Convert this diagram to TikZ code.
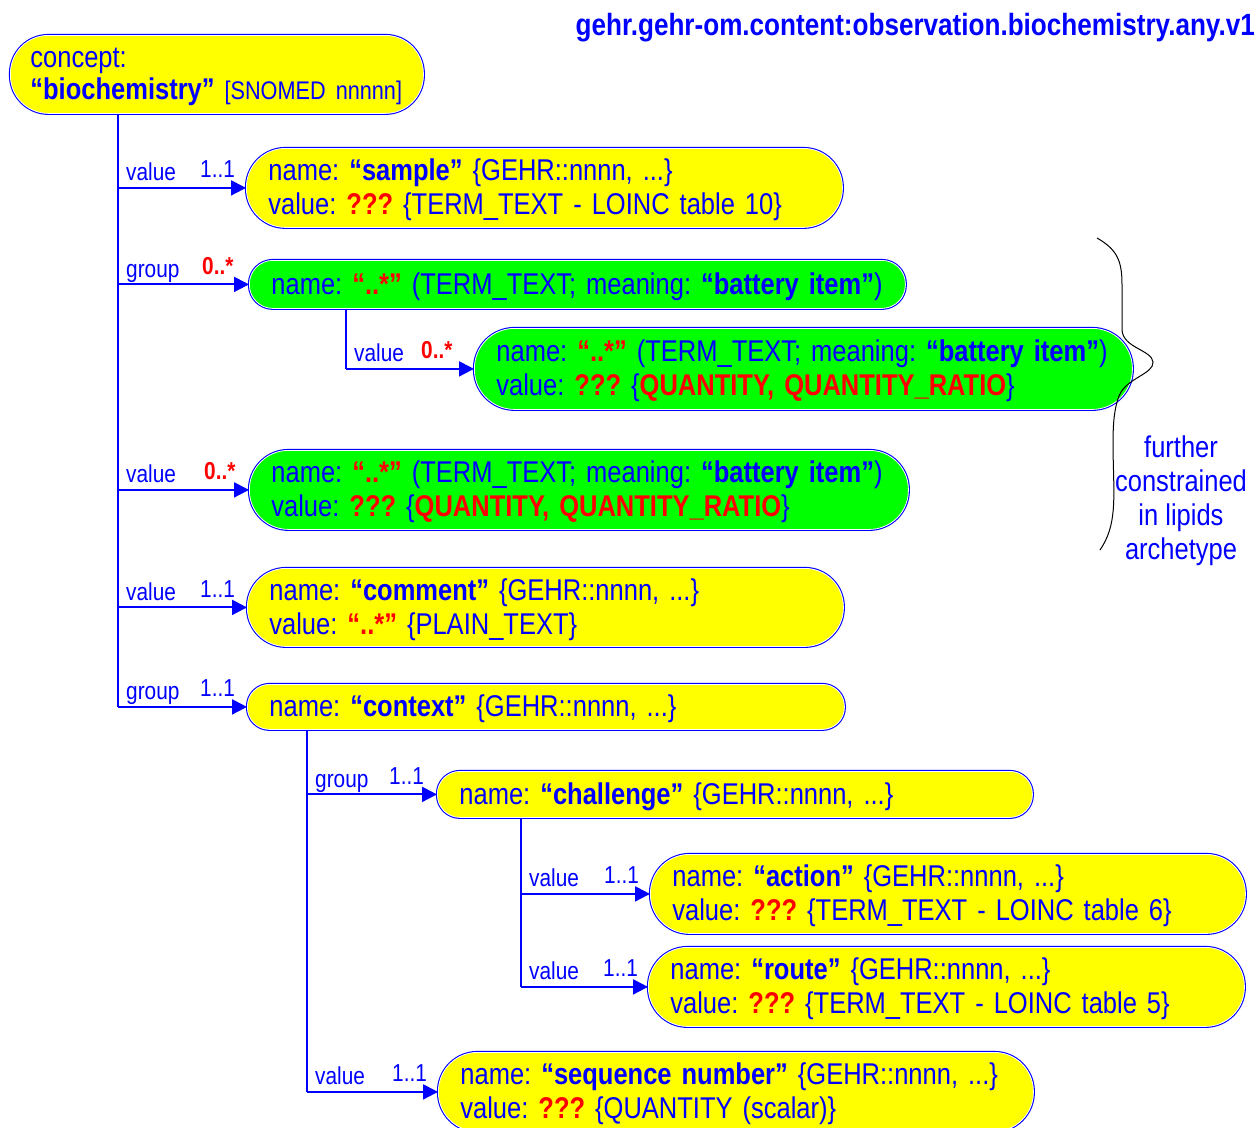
\documentclass[tikz,border=0pt]{standalone}
\usepackage{fontspec}
\setmainfont{Liberation Sans}[FakeStretch=0.85]
\usetikzlibrary{arrows.meta}

\definecolor{ehrblue}{RGB}{0,0,255}
\definecolor{ehrred}{RGB}{255,0,0}
\definecolor{ehryellow}{RGB}{255,255,0}
\definecolor{ehrgreen}{RGB}{0,255,0}

\frenchspacing
\newcommand\boxfont{\fontsize{30}{34}\selectfont}
\newcommand\conceptfont{\fontsize{30}{32}\selectfont}
\newcommand\snomedfont{\fontsize{25.5}{32}\selectfont}
\newcommand\lblfont{\fontsize{24.5}{28}\selectfont}
\newcommand\titlefont{\fontsize{30.7}{34}\selectfont\bfseries}

% red bold text, bold quoted names, and a stack of text lines set a little low
\newcommand\redb[1]{{\color{ehrred}\bfseries #1}}
\newcommand\bq[1]{{\bfseries “#1”}}
\newcommand\lines[1]{\noindent\raisebox{-3pt}[\height][\depth]{\begin{tabular}{@{}l@{}}#1\end{tabular}}}

% one branch: arrow from a trunk to a node, with role and multiplicity labels
\newcommand\branchto[5]{%
  \coordinate (#2-src) at (#1 |- #2.west);
  \draw[arr] (#2-src) -- (#2.west);
  \node[lbl] (#2-role) at ([shift={(8,-7)}]#2-src) {#3};
  \node[lbl] (#2-mult) at ([shift={(#5,-10)}]#2-src) {#4};
}

\begin{document}
\begin{tikzpicture}[x=1pt, y=-1pt,
  ebox/.style={anchor=north west, align=left, inner xsep=22pt, inner ysep=0pt,
    font=\boxfont, text=ehrblue,
    preaction={draw=ehrblue, line width=3pt},
    draw=white, line width=0.8pt},
  wire/.style={draw=ehrblue, line width=2pt},
  arr/.style={wire, -{Triangle[length=15pt, width=15pt]}},
  lbl/.style={anchor=base west, inner sep=0pt, font=\lblfont, text=ehrblue},
]
\useasboundingbox (0,0) rectangle (1255,1127);

% title
\node[anchor=base east, inner sep=0pt, font=\titlefont, text=ehrblue] (title)
  at (1255,35) {gehr.gehr-om.content:observation.biochemistry.any.v1};

% concept
\node[ebox, fill=ehryellow, inner xsep=20pt, text width=373pt, minimum height=78pt,
  rounded corners=38pt, font=\conceptfont] (concept) at (10,35)
  {\lines{concept:\\ \bq{biochemistry} {\snomedfont[SNOMED nnnnn]}}};

% top-level items
\node[ebox, fill=ehryellow, text width=552pt, minimum height=79pt, rounded corners=39pt]
  (sample) at (246,148)
  {\lines{name: \bq{sample} \{GEHR::nnnn, ...\}\\
          value: \redb{???} \{TERM\_TEXT - LOINC table 10\}}};

\node[ebox, fill=ehrgreen, text width=612pt, minimum height=48pt, rounded corners=23.5pt]
  (grp1) at (249,260)
  {\lines{name: \redb{“..*”} (TERM\_TEXT; meaning: \bq{battery item})}};

\node[ebox, fill=ehrgreen, text width=614pt, minimum height=81pt, rounded corners=40pt]
  (bat1) at (474,328)
  {\lines{name: \redb{“..*”} (TERM\_TEXT; meaning: \bq{battery item})\\
          value: \redb{???} \{\redb{QUANTITY, QUANTITY\_RATIO}\}}};

\node[ebox, fill=ehrgreen, text width=615pt, minimum height=79pt, rounded corners=39pt]
  (bat2) at (249,450)
  {\lines{name: \redb{“..*”} (TERM\_TEXT; meaning: \bq{battery item})\\
          value: \redb{???} \{\redb{QUANTITY, QUANTITY\_RATIO}\}}};

\node[ebox, fill=ehryellow, text width=552pt, minimum height=78pt, rounded corners=38.5pt]
  (comment) at (247,568)
  {\lines{name: \bq{comment} \{GEHR::nnnn, ...\}\\
          value: \redb{“..*”} \{PLAIN\_TEXT\}}};

\node[ebox, fill=ehryellow, text width=553pt, minimum height=45pt, rounded corners=22pt]
  (context) at (247,684)
  {\lines{name: \bq{context} \{GEHR::nnnn, ...\}}};

% context items
\node[ebox, fill=ehryellow, text width=551pt, minimum height=46pt, rounded corners=22.5pt]
  (challenge) at (437,771)
  {\lines{name: \bq{challenge} \{GEHR::nnnn, ...\}}};

\node[ebox, fill=ehryellow, text width=551pt, minimum height=79pt, rounded corners=39pt]
  (action) at (650,854)
  {\lines{name: \bq{action} \{GEHR::nnnn, ...\}\\
          value: \redb{???} \{TERM\_TEXT - LOINC table 6\}}};

\node[ebox, fill=ehryellow, text width=552pt, minimum height=79pt, rounded corners=39pt]
  (route) at (648,947)
  {\lines{name: \bq{route} \{GEHR::nnnn, ...\}\\
          value: \redb{???} \{TERM\_TEXT - LOINC table 5\}}};

\node[ebox, fill=ehryellow, text width=551pt, minimum height=79pt, rounded corners=39pt]
  (seq) at (438,1052)
  {\lines{name: \bq{sequence number} \{GEHR::nnnn, ...\}\\
          value: \redb{???} \{QUANTITY (scalar)\}}};

% trunks
\coordinate (tA) at (118,0);
\coordinate (tB) at (346,0);
\coordinate (tC) at (307,0);
\coordinate (tD) at (521,0);
\draw[wire] (concept.south -| tA) -- (tA |- context.west);
\draw[wire] (grp1.south -| tB) -- (tB |- bat1.west);
\draw[wire] (context.south -| tC) -- (tC |- seq.west);
\draw[wire] (challenge.south -| tD) -- (tD |- route.west);

% branches
\branchto{tA}{sample}{value}{1..1}{82}
\branchto{tA}{grp1}{group}{\redb{0..*}}{84}
\branchto{tB}{bat1}{value}{\redb{0..*}}{75}
\branchto{tA}{bat2}{value}{\redb{0..*}}{86}
\branchto{tA}{comment}{value}{1..1}{82}
\branchto{tA}{context}{group}{1..1}{82}
\branchto{tC}{challenge}{group}{1..1}{82}
\branchto{tD}{action}{value}{1..1}{83}
\branchto{tD}{route}{value}{1..1}{82}
\branchto{tC}{seq}{value}{1..1}{85}

% brace with its note
\draw[black, line width=1pt]
  (1097,238) .. controls (1118,250) and (1122,262) .. (1122,285)
  -- (1122,330) .. controls (1123,348) and (1152,350) .. (1153,362)
  .. controls (1154,374) and (1126,378) .. (1119,396)
  .. controls (1113,412) and (1113,430) .. (1113,450)
  .. controls (1114,500) and (1117,525) .. (1100,550);
\node[align=center, font=\boxfont, text=ehrblue, inner sep=0pt] (note) at (1181,501)
  {further\\constrained\\in lipids\\archetype};
\end{tikzpicture}
\end{document}
